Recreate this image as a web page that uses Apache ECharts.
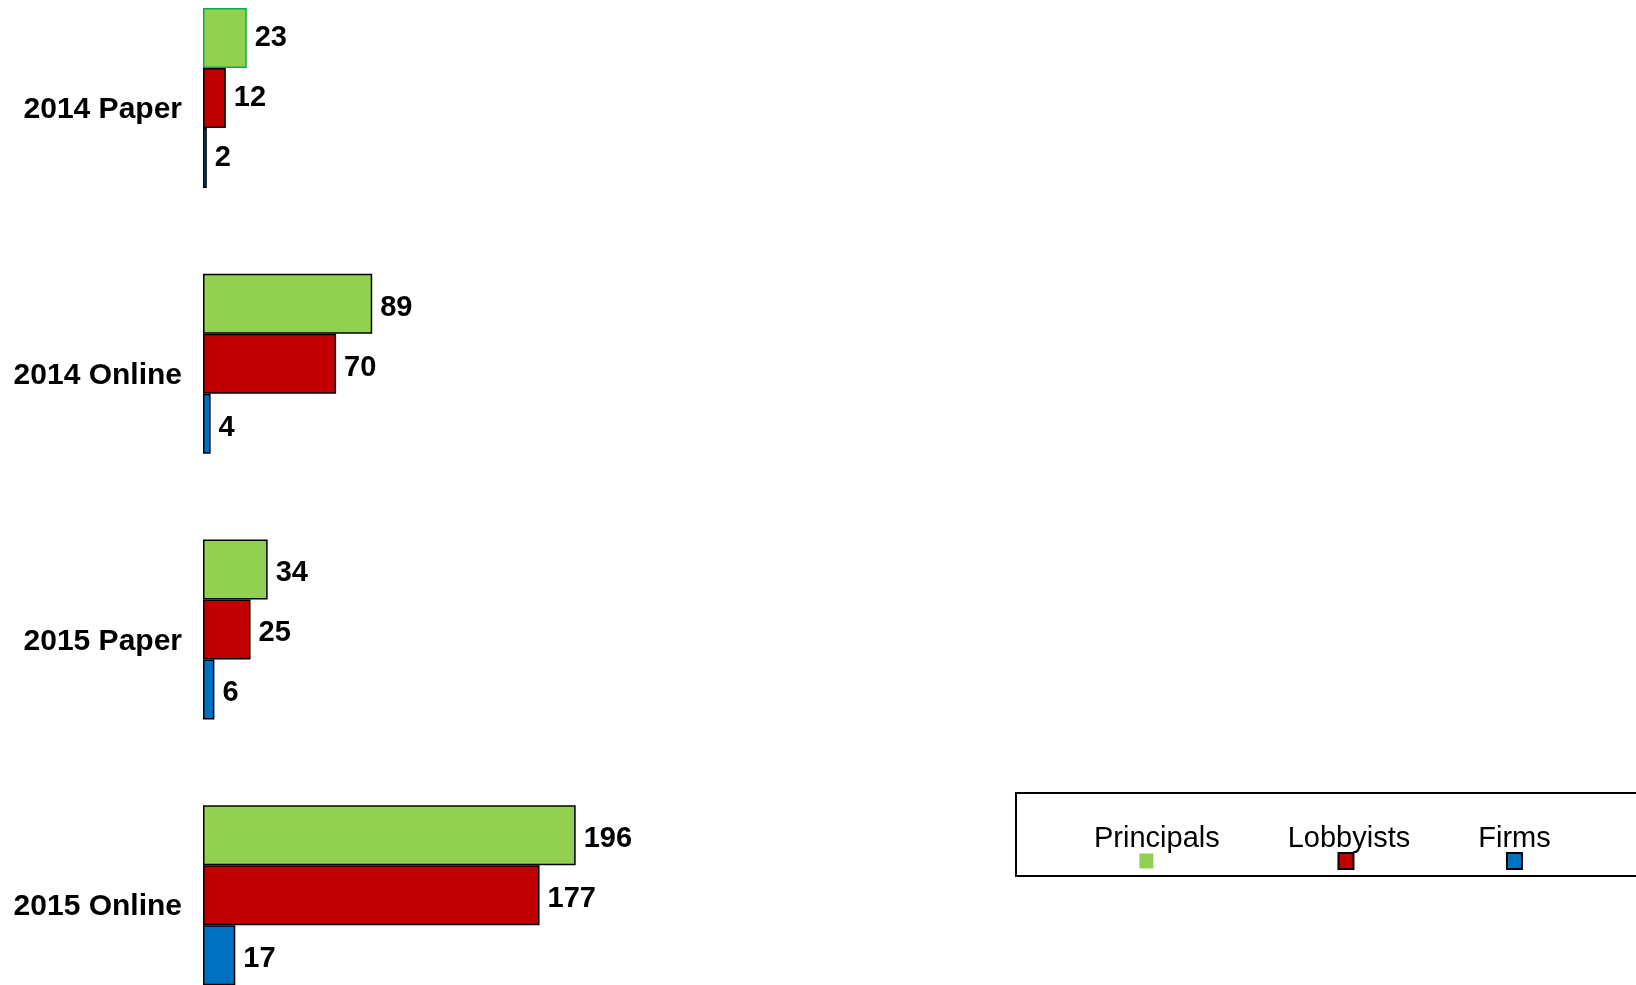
<!DOCTYPE html>
<html>
<head>
<meta charset="utf-8">
<script src="https://cdn.jsdelivr.net/npm/echarts@6/dist/echarts.min.js"></script>
<style>
html,body{margin:0;padding:0;background:#fff;}
#chart{width:1636px;height:985px;}
</style>
</head>
<body>
<div id="chart"></div>
<script>
var categories = ['2014 Paper', '2014 Online', '2015 Paper', '2015 Online'];
var principals = [23, 89, 34, 196];
var lobbyists = [12, 70, 25, 177];
var firms = [2, 4, 6, 17];
var seriesNames = ['Principals', 'Lobbyists', 'Firms'];

var FONT = '"Liberation Sans", Arial, sans-serif';
var chart = echarts.init(document.getElementById('chart'));

var labelCfg = {
  show: true, position: 'right', distance: 8, offset: [0, 4],
  color: '#000', fontWeight: 'bold', fontSize: 29, fontFamily: FONT
};

// first category's labels sit slightly higher in the original
function items(arr, firstStyle) {
  return arr.map(function (v, i) {
    if (i !== 0) return v;
    var o = {value: v, label: {offset: [0, 0]}};
    if (firstStyle) o.itemStyle = firstStyle;
    return o;
  });
}

var legendIcon = {
  Principals: '{p|}{s1|}',
  Lobbyists: '{l|}{s2|}',
  Firms: '{f|}'
};

chart.setOption({
  animation: false,
  backgroundColor: '#fff',
  grid: {left: 203, top: -35, width: 1331, height: 1063, containLabel: false, outerBoundsMode: 'none'},
  xAxis: {
    type: 'value', min: 0, max: 700, show: false,
    splitLine: {show: false}
  },
  yAxis: {
    type: 'category', data: categories, inverse: true,
    axisLine: {show: false}, axisTick: {show: false},
    axisLabel: {
      margin: 21, color: '#000', fontWeight: 'bold', fontSize: 30,
      fontFamily: FONT, verticalAlign: 'top', lineHeight: 24
    }
  },
  legend: {
    data: seriesNames,
    left: 1016, top: 793,
    width: 1000,
    orient: 'horizontal',
    padding: [31, 200, 6, 72],
    itemGap: 62,
    itemWidth: 0, itemHeight: 0,
    backgroundColor: '#fff',
    borderColor: '#000', borderWidth: 2,
    formatter: function (name) {
      return '{t|' + name + '}\n' + legendIcon[name];
    },
    textStyle: {
      fontFamily: FONT,
      rich: {
        t: {fontSize: 29, color: '#000', lineHeight: 30, fontFamily: FONT, align: 'center'},
        p: {width: 14, height: 15, backgroundColor: '#92d050', align: 'center'},
        l: {width: 13, height: 14, backgroundColor: '#c00000', borderColor: '#000', borderWidth: 2, align: 'center'},
        f: {width: 13, height: 14, backgroundColor: '#0070c0', borderColor: '#000', borderWidth: 2, align: 'center'},
        s1: {width: 21, height: 15, align: 'center'},
        s2: {width: 6, height: 15, align: 'center'}
      }
    }
  },
  series: [
    {
      name: seriesNames[0], type: 'bar', barWidth: 60, barGap: '0%',
      data: items(principals, {borderColor: '#00b050'}),
      itemStyle: {color: '#92d050', borderColor: '#000', borderWidth: 1.5},
      label: labelCfg
    },
    {
      name: seriesNames[1], type: 'bar', barWidth: 60, barGap: '0%',
      data: items(lobbyists),
      itemStyle: {color: '#c00000', borderColor: '#000', borderWidth: 1.5},
      label: labelCfg
    },
    {
      name: seriesNames[2], type: 'bar', barWidth: 60, barGap: '0%',
      data: items(firms),
      itemStyle: {color: '#0070c0', borderColor: '#000', borderWidth: 1.5},
      label: labelCfg
    }
  ]
});
</script>
</body>
</html>
